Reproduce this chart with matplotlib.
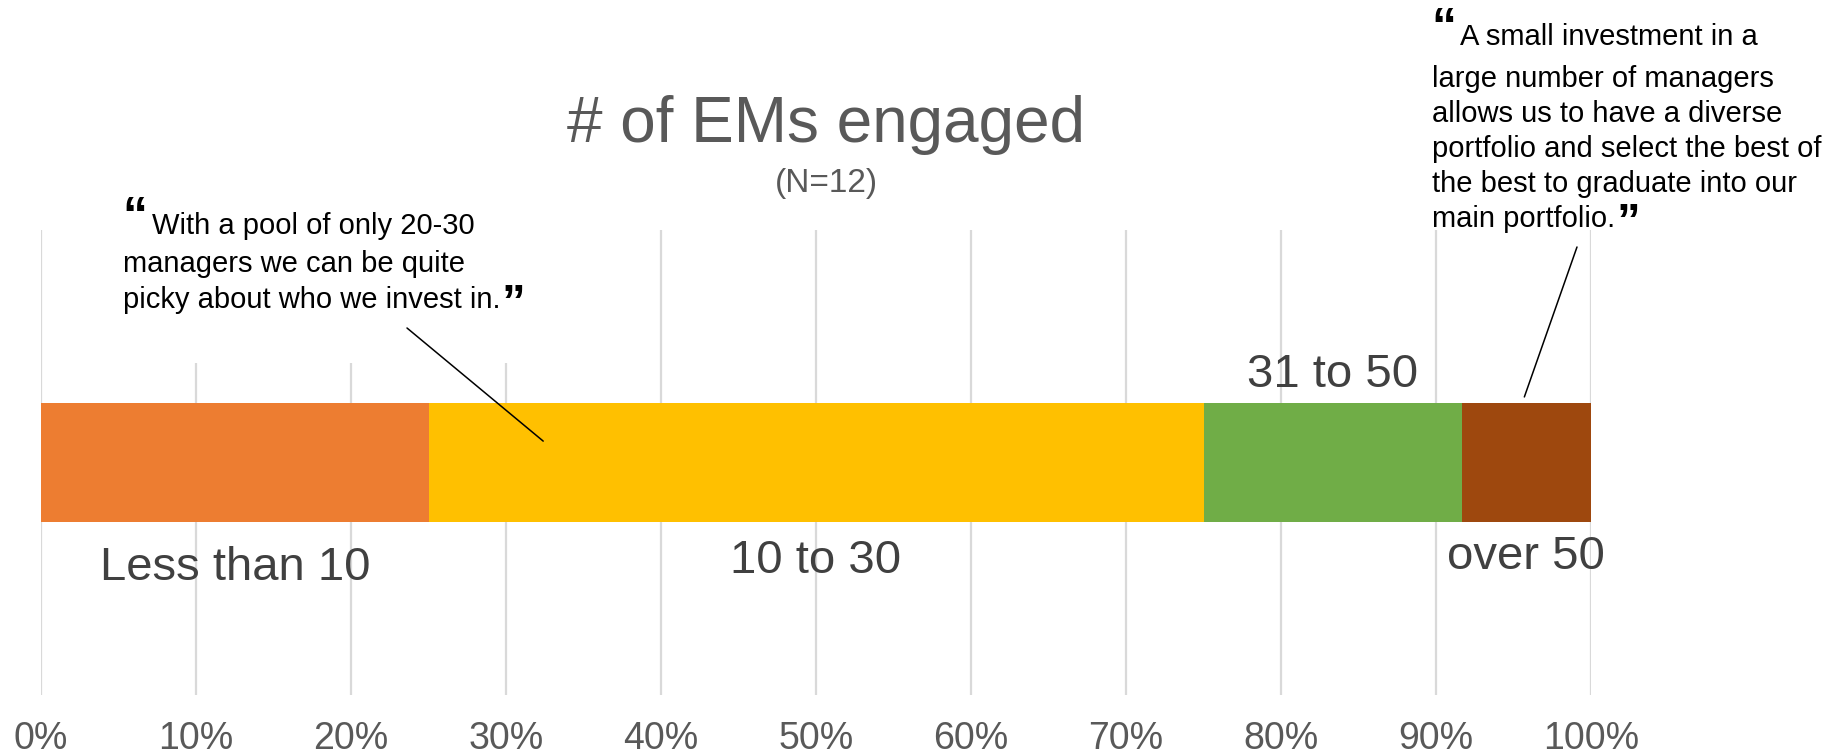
import matplotlib
matplotlib.use("Agg")
import matplotlib.pyplot as plt
from matplotlib.patches import Rectangle
from matplotlib.ticker import PercentFormatter

plt.rcParams["font.family"] = ["Liberation Sans", "DejaVu Sans"]

# Survey data: number of emerging managers engaged (N=12 respondents)
categories = ["Less than 10", "10 to 30", "31 to 50", "over 50"]
counts = [3, 6, 2, 1]
n_total = 12
colors = ["#ED7D31", "#FFC000", "#70AD47", "#9E480E"]
label_side = ["below", "below", "above", "below"]
label_offset_px = [-58, -51, 16, -47]

tick_values = [0, 10, 20, 30, 40, 50, 60, 70, 80, 90, 100]

title_text = "# of EMs engaged"
subtitle_text = f"(N={n_total})"

quote_left = ["With a pool of only 20-30",
              "managers we can be quite",
              "picky about who we invest in."]
quote_right = ["A small investment in a",
               "large number of managers",
               "allows us to have a diverse",
               "portfolio and select the best of",
               "the best to graduate into our",
               "main portfolio."]

W, H = 1839, 756
fig = plt.figure(figsize=(W / 100, H / 100), dpi=100)


def fx(x):
    return x / W


def fy(y):
    return 1 - y / H


ax = fig.add_axes([fx(41), fy(695), fx(1591) - fx(41), fy(230) - fy(695)])

shares = [c / n_total * 100 for c in counts]
left = 0.0
bar_h = 0.254
for cat, share, col, side, off in zip(categories, shares, colors, label_side, label_offset_px):
    ax.barh(0, share, left=left, height=bar_h, color=col, zorder=2)
    center = left + share / 2
    edge = bar_h / 2 if side == "above" else -bar_h / 2
    ax.annotate(cat, xy=(center, edge), xytext=(0, off), textcoords="offset pixels",
                ha="center", va="baseline", fontsize=34, color="#404040", zorder=4)
    left += share

ax.set_xlim(0, 100)
ax.set_ylim(-0.5, 0.5)
ax.set_xticks(tick_values)
ax.xaxis.set_major_formatter(PercentFormatter(decimals=0))
ax.set_yticks([])
ax.tick_params(axis="x", length=0, pad=19, labelsize=27, labelcolor="#595959")
ax.grid(axis="x", color="#D9D9D9", linewidth=1.6)
ax.set_axisbelow(True)
for s in ax.spines.values():
    s.set_visible(False)

# white text-box area behind the left quote hides the upper gridlines
ax.add_patch(Rectangle((fx(60), fy(363)), fx(540), fy(0) - fy(133), transform=fig.transFigure,
                       facecolor="white", edgecolor="none", zorder=1))

# Title and subtitle
fig.text(fx(826), fy(142), title_text, ha="center", va="baseline", fontsize=46, color="#595959")
fig.text(fx(826), fy(192), subtitle_text, ha="center", va="baseline", fontsize=24, color="#595959")

renderer = fig.canvas.get_renderer()


def draw_quote(lines, x_first, x_rest, baselines, x_open):
    fig.text(fx(x_open), fy(baselines[0] - 2), "\u201c", ha="left", va="baseline",
             fontsize=36, fontweight="bold", color="black")
    last = None
    for i, (line, yb) in enumerate(zip(lines, baselines)):
        x0 = x_first if i == 0 else x_rest
        last = fig.text(fx(x0), fy(yb), line, ha="left", va="baseline", fontsize=21, color="black")
    bb = last.get_window_extent(renderer)
    fig.text(bb.x1 / W + fx(1), fy(baselines[-1] + 9), "\u201d", ha="left", va="baseline",
             fontsize=34, fontweight="bold", color="black")


draw_quote(quote_left, 152, 123, [234, 272, 308], 122)
draw_quote(quote_right, 1460, 1432, [45, 87, 122, 157, 192, 227], 1431)

# Leader lines from the quotes to the bar segments they refer to
ax.annotate("", xy=(32.4, 0.046), xycoords="data",
            xytext=(407, H - 328), textcoords="figure pixels",
            arrowprops=dict(arrowstyle="-", color="black", lw=1.1, shrinkA=0, shrinkB=0),
            zorder=5)
ax.annotate("", xy=(95.7, 0.141), xycoords="data",
            xytext=(1577, H - 247), textcoords="figure pixels",
            arrowprops=dict(arrowstyle="-", color="black", lw=1.1, shrinkA=0, shrinkB=0),
            zorder=5)

fig.savefig("out.png", dpi=100, facecolor="white")
